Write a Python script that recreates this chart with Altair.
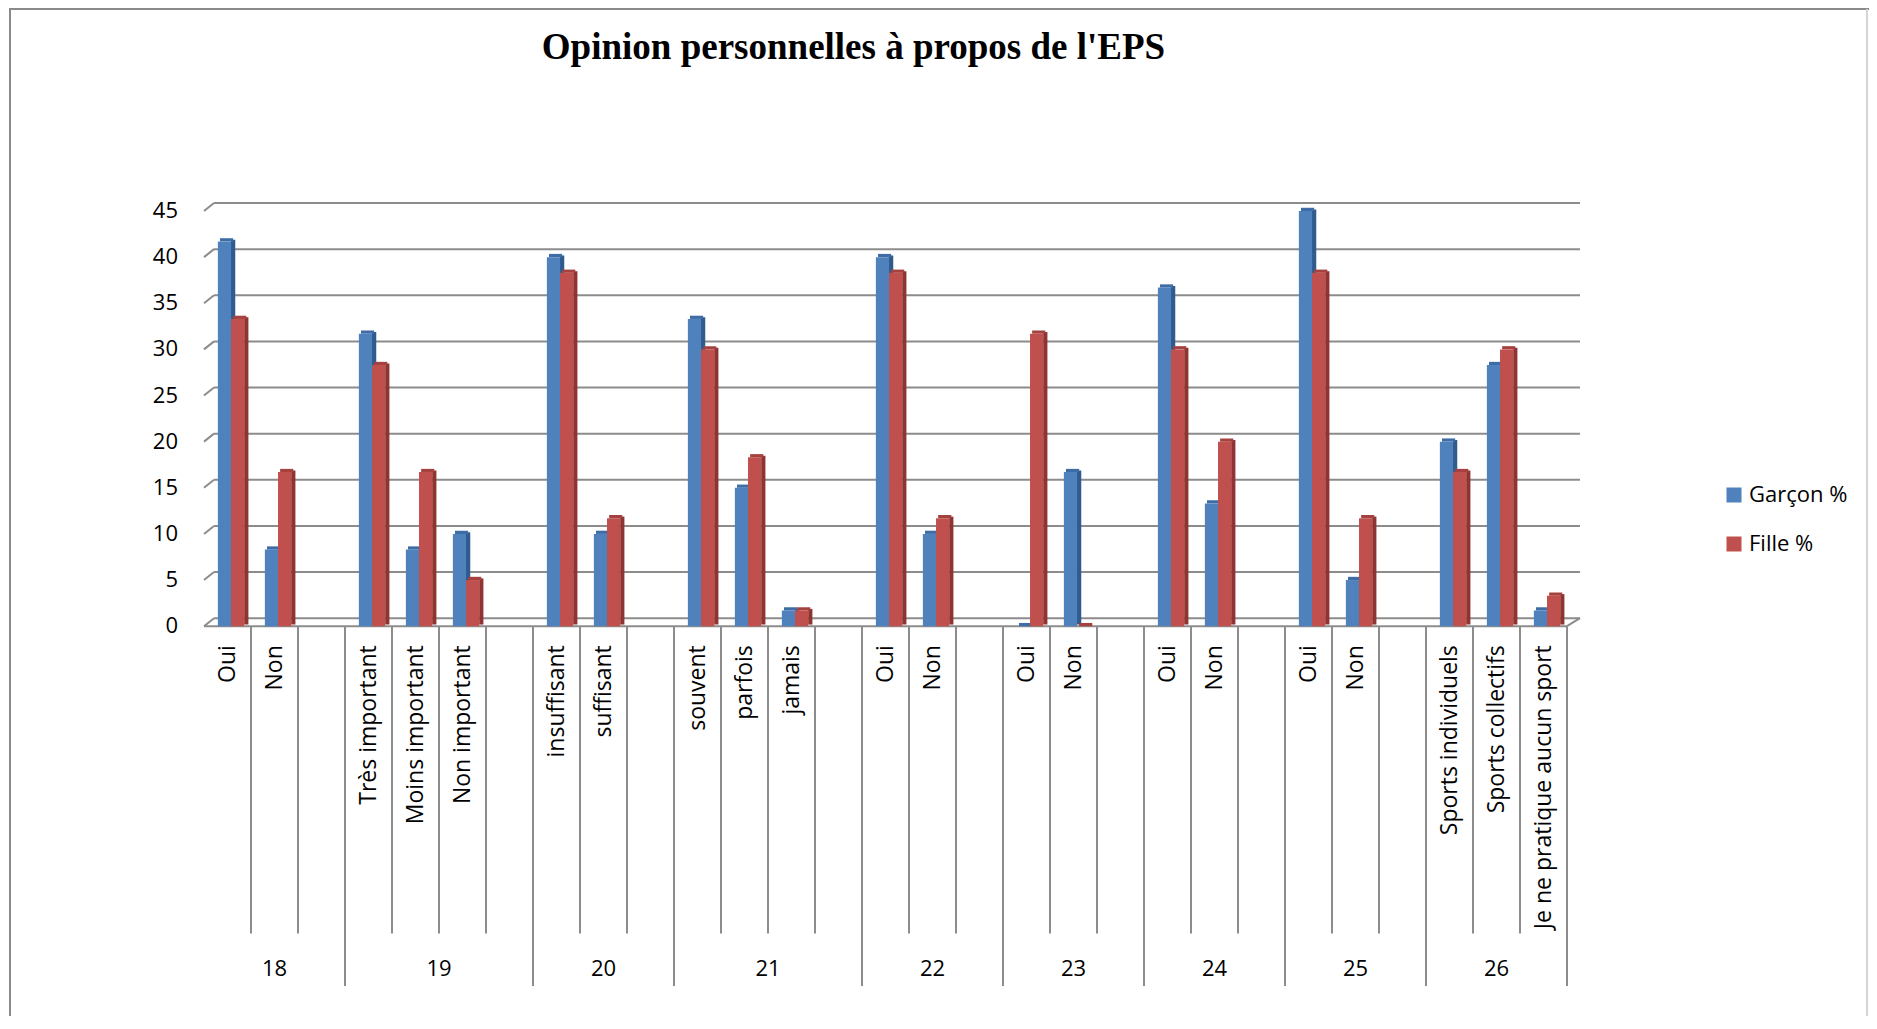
import altair as alt
import pandas as pd

# ---------------- data ----------------
groups = ["18", "19", "20", "21", "22", "23", "24", "25", "26"]
options = [
    ["Oui", "Non"],
    ["Très important", "Moins important", "Non important"],
    ["insuffisant", "suffisant"],
    ["souvent", "parfois", "jamais"],
    ["Oui", "Non"],
    ["Oui", "Non"],
    ["Oui", "Non"],
    ["Oui", "Non"],
    ["Sports individuels", "Sports collectifs", "Je ne pratique aucun sport"],
]
garcon = [41.7, 8.3, 31.7, 8.3, 10, 40, 10, 33.3, 15, 1.7, 40, 10, 0, 16.7,
          36.7, 13.3, 45, 5, 20, 28.3, 1.7]
fille = [33.3, 16.7, 28.3, 16.7, 5, 38.3, 11.7, 30, 18.3, 1.7, 38.3, 11.7,
         31.7, 0, 30, 20, 38.3, 11.7, 16.7, 30, 3.3]
series = ["Garçon %", "Fille %"]
y_ticks = [0, 5, 10, 15, 20, 25, 30, 35, 40, 45]
title_text = "Opinion personnelles à propos de l'EPS"

# ---------------- layout / style ----------------
SLOT_PX = 47
H = 775
Y_MIN, Y_MAX = -39, 45
PX_PER_UNIT = H / (Y_MAX - Y_MIN)
GRID = "#8c8c8c"
BLUE, BLUE_SIDE, BLUE_TOP = "#4F81BD", "#2F5B8F", "#3E6CA6"
RED, RED_SIDE, RED_TOP = "#C0504D", "#8E3432", "#A5413E"
FONT = "Open Sans"
BAR_L = {"Garçon %": 0.295, "Fille %": 0.575}
BAR_W = 0.28
SIDE_X = 0.09
DEPTH_Y = 0.35

# build slots
rows, group_rows, bounds = [], [], []
slot, k = 0, 0
for gi, (g, opts) in enumerate(zip(groups, options)):
    start = slot
    for o in opts:
        rows.append({"slot": slot, "group": g, "option": o,
                     "Garçon %": garcon[k], "Fille %": fille[k]})
        slot += 1
        k += 1
    if gi < len(groups) - 1:
        slot += 1  # empty slot between questions
    group_rows.append({"group": g, "xc": (start + slot) / 2, "zero": 0})
    bounds.append(slot)
n_slots = slot
W = n_slots * SLOT_PX

df = pd.DataFrame(rows)
labels_df = pd.DataFrame({"xc": df["slot"] + 0.5, "option": df["option"], "zero": 0})
groups_df = pd.DataFrame(group_rows)
sep_df = pd.DataFrame({"b": list(range(1, n_slots + 1))})
sep_df["top"] = 0
sep_df["bottom"] = [Y_MIN if b in bounds else -33.3 for b in sep_df["b"]]
grid_df = pd.DataFrame({"v": y_ticks})
grid_df["v2"] = grid_df["v"] + 8 / PX_PER_UNIT
grid_df["lab"] = [str(v) for v in y_ticks]
floor_df = pd.DataFrame({"xa": [0], "xb": [n_slots], "v": [0]})


def bar_frame(s):
    d = pd.DataFrame({"slot": df["slot"], "value": df[s], "series": s})
    d["x1"] = d["slot"] + BAR_L[s]
    d["x2"] = d["x1"] + BAR_W
    d["base"] = 0.0
    d["sx2"] = d["x2"] + SIDE_X
    d["sy1"] = DEPTH_Y / 2
    d["sy2"] = d["value"] + DEPTH_Y / 2
    d["tx1"] = d["x1"] + SIDE_X / 2
    d["tx2"] = d["x2"] + SIDE_X / 2
    d["ty2"] = d["value"] + DEPTH_Y
    return d


def X(f):
    return alt.X(f, type="quantitative",
                 scale=alt.Scale(domain=[0, n_slots], nice=False, zero=False), axis=None)


def Y(f, axis=None):
    return alt.Y(f, type="quantitative",
                 scale=alt.Scale(domain=[Y_MIN, Y_MAX], nice=False, zero=False), axis=axis)


color_scale = alt.Scale(domain=series, range=[BLUE, RED])
legend = alt.Legend(title=None, orient="none", legendX=1519, legendY=273,
                    symbolType="square", symbolSize=225, symbolStrokeWidth=0,
                    labelFontSize=22, labelFont=FONT, labelColor="#000000",
                    rowPadding=27, labelOffset=4, padding=0)
y_axis = alt.Axis(values=y_ticks, grid=False, domain=True, domainColor=GRID,
                  domainWidth=2, tickColor=GRID, tickWidth=2, tickSize=7,
                  labels=False, title=None)

layers = []

# back wall gridlines
layers.append(alt.Chart(grid_df).mark_rule(color=GRID, strokeWidth=2, yOffset=-8).encode(
    x=alt.value(10), x2=alt.value(W + 13), y=Y("v")))
layers.append(alt.Chart(grid_df).mark_rule(color=GRID, strokeWidth=2).encode(
    x=alt.value(0), x2=alt.value(10), y=Y("v"), y2="v2:Q"))
layers.append(alt.Chart(grid_df.iloc[[0]]).mark_rule(color=GRID, strokeWidth=2).encode(
    x=alt.value(W), x2=alt.value(W + 13), y=Y("v"), y2="v2:Q"))
# front floor line
layers.append(alt.Chart(floor_df).mark_rule(color=GRID, strokeWidth=2).encode(
    x=X("xa"), x2="xb:Q", y=Y("v")))

# y tick labels
layers.append(alt.Chart(grid_df).mark_text(
    align="right", baseline="middle", fontSize=22, font=FONT, color="#000000").encode(
    x=alt.value(-26), y=Y("v"), text="lab:N"))

# bars with a simple 3D look
for s, side_c, top_c in [("Garçon %", BLUE_SIDE, BLUE_TOP), ("Fille %", RED_SIDE, RED_TOP)]:
    d = bar_frame(s)
    layers.append(alt.Chart(d).mark_rect(color=side_c).encode(
        x=X("x2"), x2="sx2:Q", y=Y("sy1"), y2="sy2:Q"))
    layers.append(alt.Chart(d).mark_rect(color=top_c).encode(
        x=X("tx1"), x2="tx2:Q", y=Y("value"), y2="ty2:Q"))
    layers.append(alt.Chart(d).mark_rect().encode(
        x=X("x1"), x2="x2:Q", y=Y("value", y_axis if s == series[0] else None),
        y2="base:Q",
        color=alt.Color("series:N", scale=color_scale, legend=legend)))

# category separators below axis
layers.append(alt.Chart(sep_df).mark_rule(color=GRID, strokeWidth=2).encode(
    x=X("b"), y=Y("top"), y2="bottom:Q"))

# sub-category labels
layers.append(alt.Chart(labels_df).mark_text(
    angle=270, align="right", baseline="middle", fontSize=23, font=FONT,
    color="#000000", yOffset=19).encode(
    x=X("xc"), y=Y("zero"), text="option:N"))

# group labels
layers.append(alt.Chart(groups_df).mark_text(
    align="center", baseline="middle", fontSize=22, font=FONT,
    color="#000000", yOffset=343).encode(
    x=X("xc"), y=Y("zero"), text="group:N"))

# title
layers.append(alt.Chart(pd.DataFrame({"t": [title_text]})).mark_text(
    align="center", baseline="alphabetic", fontSize=37, fontWeight="bold",
    font="Liberation Serif", color="#000000").encode(
    x=alt.value(649.5), y=alt.value(-152), text="t:N"))

# outer frame (left, top and right edges)
frame_df = pd.DataFrame({"k": [0]})
layers.append(alt.Chart(frame_df).mark_rule(color="#8a8a8a", strokeWidth=2).encode(
    x=alt.value(-194), y=alt.value(-203), y2=alt.value(H + 40)))
layers.append(alt.Chart(frame_df).mark_rule(color="#8a8a8a", strokeWidth=2).encode(
    x=alt.value(-194), x2=alt.value(W + 302), y=alt.value(-202)))
layers.append(alt.Chart(frame_df).mark_rule(color="#d4d4d4", strokeWidth=2).encode(
    x=alt.value(W + 300), y=alt.value(-202), y2=alt.value(H + 40)))

chart = alt.layer(*layers).properties(
    width=W, height=H, autosize="none",
    padding={"left": 196, "top": 203, "right": 302, "bottom": 30},
).configure_view(stroke=None)

chart.save("out.html", embed_options={"renderer": "svg", "actions": False})
